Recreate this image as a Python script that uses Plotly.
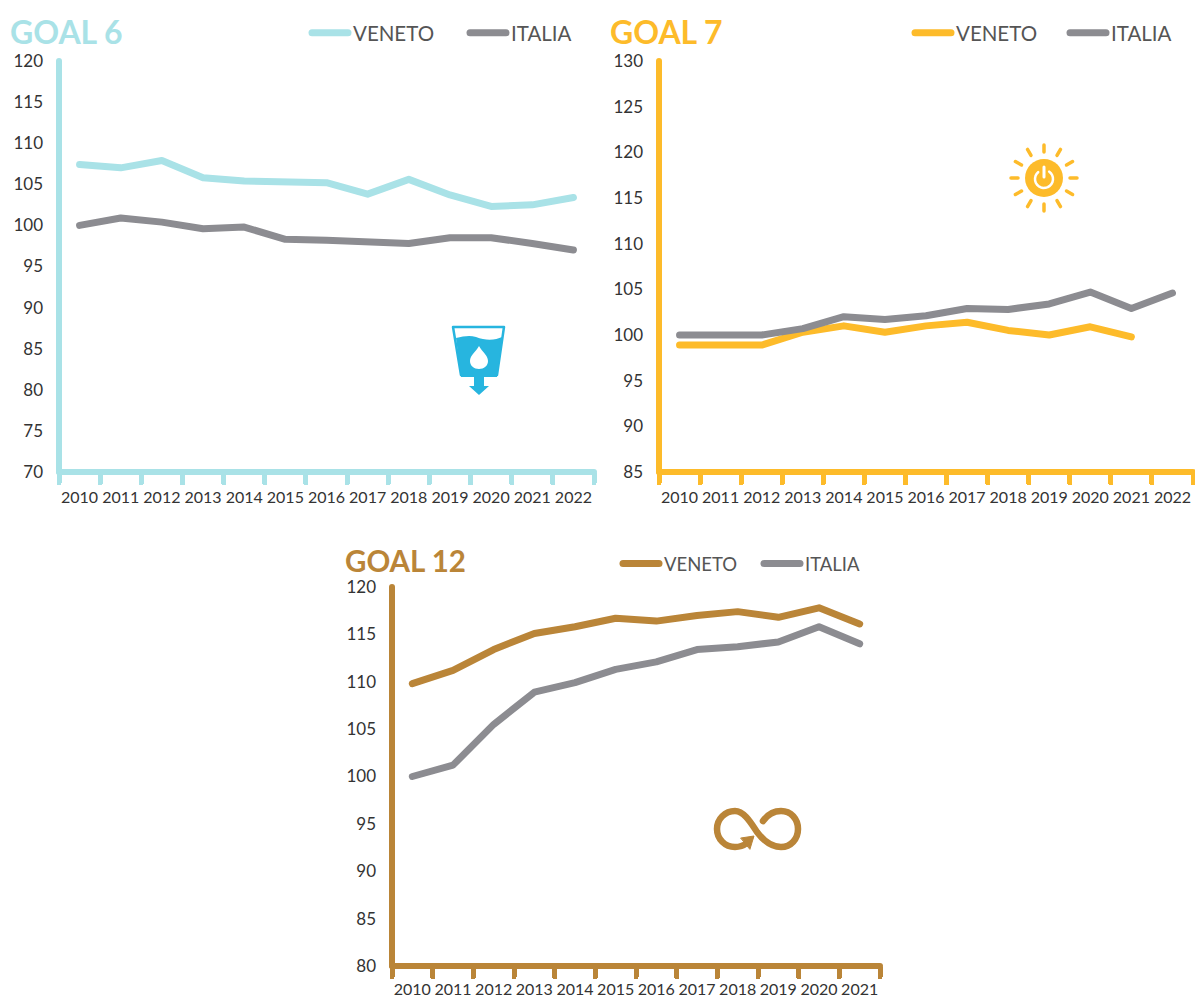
import math
import plotly.graph_objects as go

W, H = 1195, 997
years_13 = [str(y) for y in range(2010, 2023)]
years_12 = [str(y) for y in range(2010, 2022)]

g6_veneto = [107.4, 107.0, 107.9, 105.8, 105.4, 105.2, 105.2, 103.8, 105.6, 103.7, 102.3, 102.5, 103.4]
g6_italia = [100.0, 100.9, 100.4, 99.6, 99.8, 98.3, 98.2, 98.0, 97.8, 98.5, 98.5, 97.8, 97.0]
g7_veneto = [98.9, 98.9, 98.9, 100.3, 101.0, 100.3, 101.0, 101.4, 100.5, 100.0, 100.9, 99.8]
g7_italia = [100.0, 100.0, 100.0, 100.7, 102.0, 101.7, 102.1, 102.9, 102.8, 103.4, 104.7, 102.9, 104.6]
g12_veneto = [109.8, 111.2, 113.4, 115.1, 115.8, 116.7, 116.4, 117.0, 117.4, 116.8, 117.8, 116.1]
g12_italia = [100.0, 101.2, 105.5, 108.9, 109.9, 111.3, 112.1, 113.4, 113.7, 114.2, 115.8, 114.0]

C6, C7, C12, GREY = "#A9E2E7", "#FDBB2A", "#BA8538", "#8C8C91"
ICON_BLUE = "#27B5DF"
TXT = "#333333"
FONT = "Lato, Carlito, sans-serif"

def px(x): return x / W
def py(y): return 1 - y / H

panels = [
    dict(n="", lg="legend", title="GOAL 6", tx=8, color=C6, cats=years_13, v=g6_veneto, i=g6_italia, tsize=32,
         x0=59, x1=594, y0=61, y1=472, rng=(70, 120), lgx=307, lgy=33, ty=31, lsize=20.5, ew=107, so=14),
    dict(n="2", lg="legend2", title="GOAL 7", tx=608, color=C7, cats=years_13, v=g7_veneto, i=g7_italia, tsize=32,
         x0=659, x1=1193, y0=61, y1=472, rng=(85, 130), lgx=910, lgy=33, ty=31, lsize=20.5, ew=104, so=14),
    dict(n="3", lg="legend3", title="GOAL 12", tx=343, color=C12, cats=years_12, v=g12_veneto, i=g12_italia, tsize=29.5,
         x0=392, x1=880, y0=587, y1=966, rng=(80, 120), lgx=618, lgy=564, ty=560, lsize=18.5, ew=90, so=12),
]

fig = go.Figure()
layout = dict(width=W, height=H, margin=dict(l=0, r=0, t=0, b=0, autoexpand=False), paper_bgcolor="white",
              plot_bgcolor="white", font=dict(family=FONT, color=TXT), showlegend=True)
annotations = []
shapes = []
for p in panels:
    for name, vals, col in (("VENETO", p["v"], p["color"]), ("ITALIA", p["i"], GREY)):
        fig.add_trace(go.Scatter(x=p["cats"][:len(vals)], y=vals, name=name, mode="lines",
                                 xaxis="x" + p["n"], yaxis="y" + p["n"], legend=p["lg"],
                                 line=dict(color=col, width=7), hoverinfo="x+y+name"))
    layout["xaxis" + p["n"]] = dict(
        domain=[px(p["x0"]), px(p["x1"])], anchor="y" + p["n"], type="category",
        categoryorder="array", categoryarray=p["cats"], range=[-0.5, len(p["cats"]) - 0.5],
        tickson="boundaries", ticks="outside", ticklen=10, tickwidth=5, tickcolor=p["color"],
        showline=False, showgrid=False, zeroline=False,
        tickfont=dict(size=16, color=TXT, family=FONT), tickangle=0, ticklabelstandoff=p["so"])
    layout["yaxis" + p["n"]] = dict(
        domain=[py(p["y1"]), py(p["y0"])], anchor="x" + p["n"], range=list(p["rng"]), dtick=5,
        ticks="", showline=False, showgrid=False, zeroline=False,
        tickfont=dict(size=17, color=TXT, family=FONT), ticklabelstandoff=15)
    layout[p["lg"]] = dict(orientation="h", x=px(p["lgx"]), y=py(p["lgy"]), xanchor="left", yanchor="middle",
                           bgcolor="rgba(0,0,0,0)", itemwidth=36, entrywidth=p["ew"], entrywidthmode="pixels",
                           font=dict(size=p["lsize"], color="#555555", family=FONT),
                           itemclick=False, itemdoubleclick=False)
    annotations.append(dict(text="<b>%s</b>" % p["title"], x=px(p["tx"]), y=py(p["ty"]), xref="paper", yref="paper",
                            xanchor="left", yanchor="middle", showarrow=False,
                            font=dict(size=p["tsize"], color=p["color"], family=FONT)))
    shapes.append(dict(type="line", xref="paper", yref="paper", x0=px(p["x0"]), x1=px(p["x1"]),
                       y0=py(p["y1"]), y1=py(p["y1"]), layer="below", line=dict(color=p["color"], width=6)))
    shapes.append(dict(type="line", xref="paper", yref="paper", x0=px(p["x0"]), x1=px(p["x0"]),
                       y0=py(p["y1"]), y1=py(p["y0"]), layer="below", line=dict(color=p["color"], width=6)))

def P(pts, close=True):
    s = "M " + " L ".join("%.5f,%.5f" % (px(x), py(y)) for x, y in pts)
    return s + (" Z" if close else "")

def B(start, segs):
    s = "M %.5f,%.5f" % (px(start[0]), py(start[1]))
    for a, b, c in segs:
        s += " C " + " ".join("%.5f,%.5f" % (px(q[0]), py(q[1])) for q in (a, b, c))
    return s

def C(cx, cy, r):
    return dict(type="circle", xref="paper", yref="paper", x0=px(cx - r), x1=px(cx + r), y0=py(cy + r), y1=py(cy - r))

def path(d, fill=None, line=None, w=0):
    shapes.append(dict(type="path", path=d, xref="paper", yref="paper",
                       fillcolor=fill if fill else "rgba(0,0,0,0)",
                       line=dict(color=line if line else "rgba(0,0,0,0)", width=w)))

# Goal 6 icon: glass with a drop
path(P([(453, 327), (504, 327), (497, 375), (461, 375)]), fill="white", line=ICON_BLUE, w=2.5)
path(B((456, 338), [((464, 336), (470, 335), (476, 337)), ((486, 341), (496, 340), (502, 337))]) +
     " L %.5f,%.5f L %.5f,%.5f Z" % (px(497), py(377), px(461), py(377)), fill=ICON_BLUE)
path(P([(474, 376), (484, 376), (484, 386), (489, 386), (479, 395), (469, 386), (474, 386)]), fill=ICON_BLUE)
path(B((479, 346), [((482, 352), (488, 355), (488, 361)), ((488, 366), (484, 369), (479, 369)),
                    ((474, 369), (470, 366), (470, 361)), ((470, 355), (476, 352), (479, 346))]) + " Z", fill="white")

# Goal 7 icon: sun with power symbol
sx, sy = 1044, 178
for k in range(12):
    a = math.radians(k * 30)
    path(P([(sx + 26 * math.cos(a), sy + 26 * math.sin(a)), (sx + 33 * math.cos(a), sy + 33 * math.sin(a))], close=False),
         line=C7, w=3.5)
shapes.append({**C(sx, sy, 19), "fillcolor": C7, "line": dict(width=0)})
ring = [(sx + 9 * math.sin(math.radians(t)), sy + 1 - 9 * math.cos(math.radians(t))) for t in range(35, 330, 15)]
path(P(ring, close=False), line="white", w=2.5)
path(P([(sx, sy - 11), (sx, sy - 1)], close=False), line="white", w=3)

# Goal 12 icon: infinity loop with arrow
path(B((763, 821), [((768, 814), (774, 811), (781, 811)), ((791, 811), (798, 819), (798, 829)),
                    ((798, 839), (791, 847), (781, 847)), ((771, 847), (763, 840), (757, 832)),
                    ((751, 823), (744, 811), (735, 811)), ((725, 811), (717, 819), (717, 829)),
                    ((717, 839), (725, 847), (735, 847)), ((739, 847), (743, 846), (747, 843))]),
     line=C12, w=6.5)
path(P([(741, 838), (754, 836), (750, 849)]), fill=C12, line=C12, w=1)

layout["annotations"] = annotations
layout["shapes"] = shapes
fig.update_layout(**layout)
post = """
document.body.style.margin='0';document.body.style.overflow='hidden';
var st=document.createElement('style');
st.textContent='.js-line,.legendlines path,.shapelayer path,.xtick,.ticks{stroke-linecap:round;stroke-linejoin:round}';
document.head.appendChild(st);
"""
fig.write_html("out.html", config={"displayModeBar": False}, post_script=post)
